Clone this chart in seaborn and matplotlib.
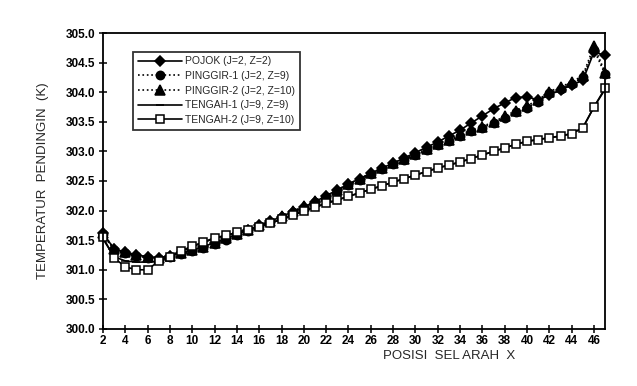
import numpy as np
import pandas as pd
import matplotlib
matplotlib.use("Agg")
import matplotlib.pyplot as plt
import seaborn as sns

# cell position along X
posisi = list(range(2, 48))

pojok = [301.62, 301.35, 301.30, 301.25, 301.22, 301.20, 301.24, 301.28, 301.33, 301.39,
         301.46, 301.53, 301.60, 301.67, 301.75, 301.82, 301.90, 301.98, 302.06, 302.15,
         302.25, 302.35, 302.45, 302.54, 302.63, 302.72, 302.80, 302.89, 302.98, 303.07,
         303.16, 303.26, 303.36, 303.48, 303.60, 303.72, 303.82, 303.91, 303.92, 303.87,
         303.95, 304.04, 304.12, 304.20, 304.68, 304.62]
pinggir1 = [301.60, 301.33, 301.28, 301.23, 301.20, 301.18, 301.22, 301.26, 301.31, 301.37,
            301.44, 301.51, 301.58, 301.66, 301.74, 301.81, 301.89, 301.97, 302.05, 302.14,
            302.23, 302.33, 302.43, 302.52, 302.61, 302.70, 302.78, 302.86, 302.94, 303.02,
            303.10, 303.18, 303.26, 303.34, 303.40, 303.48, 303.57, 303.66, 303.74, 303.84,
            303.98, 304.06, 304.14, 304.25, 304.72, 304.30]
pinggir2 = [301.62, 301.35, 301.30, 301.25, 301.22, 301.20, 301.24, 301.28, 301.33, 301.39,
            301.46, 301.53, 301.60, 301.68, 301.76, 301.83, 301.91, 301.99, 302.07, 302.16,
            302.25, 302.35, 302.45, 302.54, 302.63, 302.72, 302.80, 302.88, 302.96, 303.04,
            303.12, 303.20, 303.28, 303.36, 303.42, 303.50, 303.59, 303.69, 303.77, 303.87,
            304.01, 304.09, 304.17, 304.28, 304.78, 304.33]
tengah1 = [301.52, 301.22, 301.15, 301.13, 301.13, 301.15, 301.22, 301.31, 301.39, 301.46,
           301.53, 301.58, 301.63, 301.68, 301.73, 301.79, 301.85, 301.92, 301.99, 302.06,
           302.12, 302.18, 302.24, 302.30, 302.36, 302.42, 302.48, 302.54, 302.60, 302.66,
           302.72, 302.77, 302.82, 302.88, 302.94, 303.00, 303.06, 303.12, 303.17, 303.20,
           303.23, 303.26, 303.30, 303.40, 303.75, 304.05]
tengah2 = [301.55, 301.20, 301.05, 301.00, 301.00, 301.15, 301.22, 301.32, 301.40, 301.47,
           301.54, 301.58, 301.63, 301.68, 301.73, 301.79, 301.85, 301.92, 302.00, 302.06,
           302.12, 302.18, 302.24, 302.30, 302.36, 302.42, 302.48, 302.54, 302.60, 302.66,
           302.72, 302.77, 302.82, 302.88, 302.94, 303.00, 303.06, 303.12, 303.17, 303.20,
           303.23, 303.26, 303.30, 303.40, 303.75, 304.07]

labels = ["POJOK (J=2, Z=2)", "PINGGIR-1 (J=2, Z=9)", "PINGGIR-2 (J=2, Z=10)",
          "TENGAH-1 (J=9, Z=9)", "TENGAH-2 (J=9, Z=10)"]
series = [pojok, pinggir1, pinggir2, tengah1, tengah2]

sns.set_style("ticks")
plt.rcParams["font.family"] = ["Liberation Sans", "DejaVu Sans"]

fig = plt.figure(figsize=(6.37, 3.86), dpi=100)
ax = fig.add_axes([0.1617, 0.1477, 0.7883, 0.7668])

styles = [
    dict(marker="D", linestyle="-", markersize=5, mfc="black"),
    dict(marker="o", linestyle=":", markersize=6, mfc="black"),
    dict(marker="^", linestyle=":", markersize=7, mfc="black"),
    dict(marker="_", linestyle="-", markersize=6, mfc="black"),
    dict(marker="s", linestyle="-", markersize=6, mfc="white"),
]

for lab, vals, st in zip(labels, series, styles):
    df = pd.DataFrame({"x": posisi, "y": vals})
    sns.lineplot(data=df, x="x", y="y", ax=ax, color="black", linewidth=1.2,
                 marker=st["marker"], linestyle=st["linestyle"],
                 markersize=st["markersize"], markerfacecolor=st["mfc"],
                 markeredgecolor="black", markeredgewidth=1.1, label=lab,
                 clip_on=False)

ax.set_xlim(2, 47)
ax.set_ylim(300, 305)
ax.set_xticks(np.arange(2, 47, 2))
ax.set_yticks(np.arange(300, 305.01, 0.5))
ax.set_yticklabels([f"{v:.1f}" for v in np.arange(300, 305.01, 0.5)])
ax.tick_params(direction="inout", length=6, width=1.1, colors="black", labelsize=8.5)
ax.tick_params(axis="x", pad=1.5)
ax.tick_params(axis="y", pad=2.5)
for t in ax.get_xticklabels() + ax.get_yticklabels():
    t.set_fontweight("bold")
for sp in ax.spines.values():
    sp.set_visible(True)
    sp.set_linewidth(1.3)
    sp.set_color("black")

ax.set_ylabel("TEMPERATUR  PENDINGIN  (K)", fontsize=9.5, labelpad=12)
ax.set_xlabel("POSISI  SEL ARAH  X", fontsize=9.5)
ax.xaxis.set_label_coords(0.69, -0.072)

leg = ax.legend(loc="upper left", bbox_to_anchor=(0.05, 0.955), fontsize=7.5,
                frameon=True, fancybox=False, handlelength=4.2, borderpad=0.45,
                labelspacing=0.45, handletextpad=0.3)
leg.get_frame().set_edgecolor("black")
leg.get_frame().set_linewidth(1.3)

fig.savefig("out.png", dpi=100)
